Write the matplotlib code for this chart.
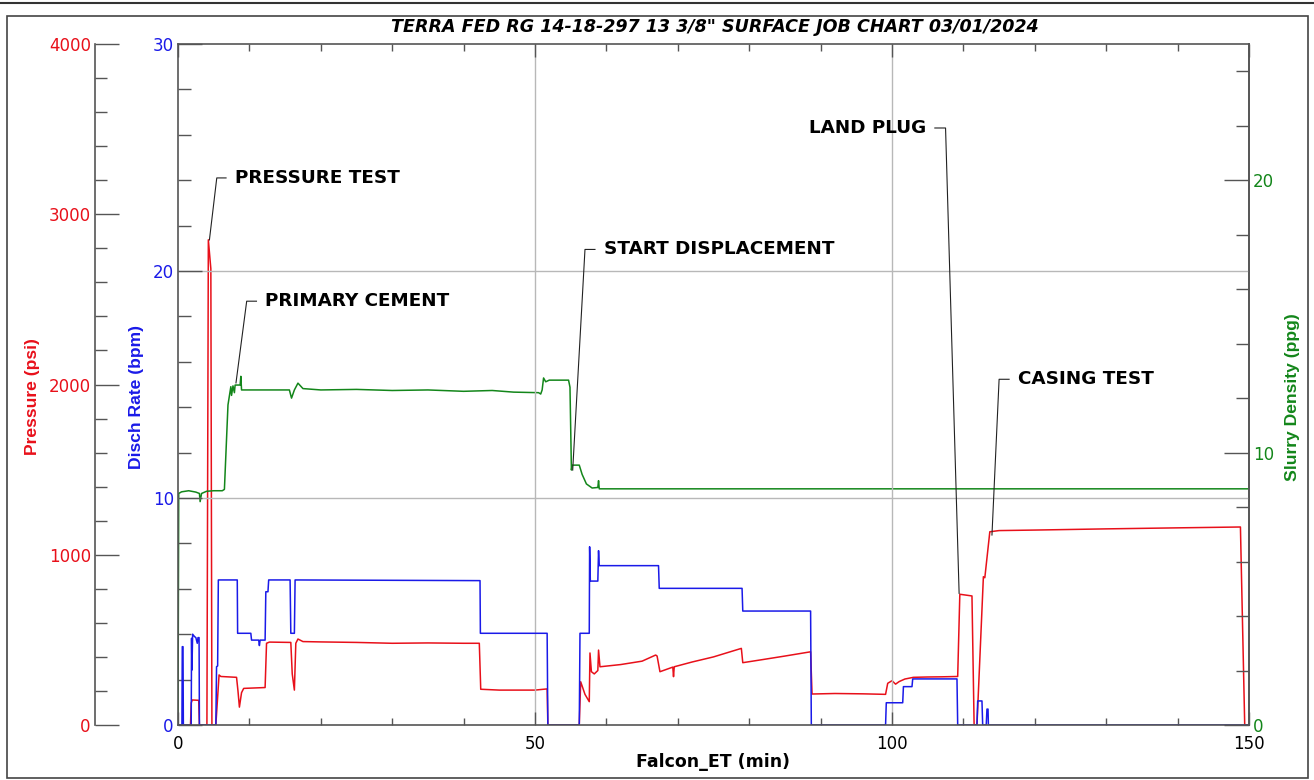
import matplotlib
matplotlib.use("Agg")
import matplotlib.pyplot as plt
from matplotlib.ticker import MultipleLocator
from matplotlib.patches import Rectangle
from matplotlib.lines import Line2D

# ------------ data ------------
press_t = [0, 1.75, 1.85, 2.0, 2.9, 3.0, 4.05, 4.25, 4.6, 4.75, 5.3, 5.75, 6.0, 8.2, 8.4,
           8.6, 8.9, 9.2, 12.2, 12.4, 12.8, 15.8, 16.0, 16.3, 16.5, 16.8, 17.5, 20, 25, 30,
           35, 40, 42.2, 42.4, 45, 50, 51.7, 51.8, 52.0, 56.2, 56.4, 57.0, 57.6, 57.7, 57.9,
           58.3, 58.8, 58.9, 59.1, 62, 65, 66.9, 67.1, 67.5, 69.3, 69.4, 69.5, 72, 75, 78.9,
           79.1, 82, 85, 88.6, 88.8, 92, 96, 99.1, 99.4, 100, 100.5, 101, 101.8, 103, 105,
           107, 109.2, 109.5, 111.2, 111.5, 111.9, 112.8, 113.0, 113.7, 115, 120, 130, 140,
           148.8, 149.4, 150]
press_psi = [0, 0, 130, 147, 145, 0, 0, 2850, 2680, 0, 0, 294, 285, 280, 200,
             105, 190, 215, 220, 480, 487, 485, 300, 205, 480, 505, 490, 488, 485, 480,
             482, 480, 480, 210, 205, 205, 212, 0, 0, 0, 254, 180, 137, 423, 313,
             300, 320, 440, 342, 355, 375, 411, 405, 313, 340, 284, 342, 370, 400, 450,
             366, 385, 405, 430, 182, 185, 183, 180, 245, 260, 240, 255, 270, 280, 282,
             283, 285, 768, 758, 0, 0, 871, 865, 1135, 1142, 1145, 1152, 1158,
             1163, 0, 0]

rate_t = [0, 0.55, 0.6, 0.7, 0.75, 1.85, 1.9, 1.95, 2.05, 2.3, 2.5, 2.7, 2.8, 2.95, 3.0,
          5.3, 5.4, 5.55, 5.65, 8.3, 8.35, 10.2, 10.3, 11.3, 11.4, 11.5, 12.2, 12.3, 12.6,
          12.7, 15.7, 15.8, 16.3, 16.4, 42.3, 42.35, 51.7, 51.8, 56.2, 56.3, 57.6, 57.65,
          57.75, 58.8, 58.9, 59.0, 67.3, 67.4, 79.0, 79.1, 88.6, 88.7, 99.1, 99.2, 101.5,
          101.6, 102.8, 102.9, 109.1, 109.2, 111.9, 112.0, 112.6, 112.7, 113.2, 113.3,
          113.45, 113.5, 150]
rate_bpm = [0, 0, 3.45, 3.45, 0, 0, 3.82, 2.42, 4.0, 3.9, 3.85, 3.6, 3.85, 3.85, 0,
            0, 2.57, 2.6, 6.39, 6.39, 4.04, 4.04, 3.74, 3.74, 3.5, 3.74, 3.74, 5.87, 5.87,
            6.39, 6.39, 4.04, 4.04, 6.39, 6.36, 4.04, 4.04, 0, 0, 4.04, 4.04, 7.85,
            6.34, 6.34, 7.68, 7.02, 7.02, 6.02, 6.02, 5.02, 5.02, 0, 0, 0.98, 0.98,
            1.69, 1.69, 2.03, 2.03, 0, 0, 1.06, 1.06, 0, 0, 0.70,
            0.70, 0, 0]

dens_t = [0, 0.1, 0.5, 1.5, 2.5, 3.0, 3.1, 3.3, 4, 5, 6.2, 6.5, 7.0, 7.4, 7.5, 7.7, 7.9,
          8.0, 8.7, 8.8, 8.9, 15.6, 15.9, 16.3, 16.8, 17.5, 20, 25, 30, 35, 40, 44, 47,
          50.5, 50.8, 51.0, 51.2, 51.5, 52, 54.7, 54.9, 55.1, 55.2, 56.2, 56.6, 57.2, 58.0,
          58.8, 58.9, 59.0, 150]
dens_ppg = [0, 8.5, 8.56, 8.6, 8.55, 8.5, 8.2, 8.5, 8.58, 8.6, 8.6, 8.65, 11.75, 12.42,
            12.1, 12.45, 12.2, 12.48, 12.48, 12.8, 12.3, 12.3, 12.0, 12.3, 12.55, 12.35,
            12.3, 12.32, 12.28, 12.3, 12.25, 12.28, 12.22, 12.2, 12.15, 12.3, 12.74, 12.6,
            12.66, 12.66, 12.4, 9.36, 9.54, 9.54, 9.2, 8.85, 8.7, 8.72, 8.97, 8.67, 8.67]

# annotation: label, curve point (min, bpm), elbow (min, bpm), end of short bar (min)
notes = [
    ("PRESSURE TEST", (4.4, 21.37), (5.43, 24.1), 6.73, "left"),
    ("PRIMARY CEMENT", (8.12, 15.07), (9.62, 18.67), 10.99, "left"),
    ("START DISPLACEMENT", (55.28, 11.23), (57.0, 20.95), 58.4, "left"),
    ("LAND PLUG", (109.4, 5.8), (107.5, 26.3), 106.0, "right"),
    ("CASING TEST", (114.0, 8.37), (115.0, 15.23), 116.4, "left"),
]

# ------------ style ------------
plt.rcParams['font.family'] = ['DejaVu Sans']
RED = '#e8101a'
BLUE = '#1a1ae8'
GREEN = '#13861a'
SPINE = '#555555'
GRID = '#b8b8b8'

W, H = 1314, 780
fig = plt.figure(figsize=(W / 100, H / 100), dpi=100)
x0, x1, y0, y1 = 178, 1249, 44, 725
ax = fig.add_axes([x0 / W, 1 - y1 / H, (x1 - x0) / W, (y1 - y0) / H])
ax_p = ax.twinx()
ax_d = ax.twinx()

# host axis: discharge rate
ax.set_xlim(0, 150)
ax.set_ylim(0, 30)
ax.xaxis.set_major_locator(MultipleLocator(50))
ax.xaxis.set_minor_locator(MultipleLocator(10))
ax.yaxis.set_major_locator(MultipleLocator(10))
ax.yaxis.set_minor_locator(MultipleLocator(2))
ax.tick_params(axis='x', which='major', direction='in', length=9.5, width=1, color=SPINE,
               labelsize=12, pad=7, top=True)
ax.tick_params(axis='x', which='minor', direction='in', length=5, width=1, color=SPINE, top=True)
ax.tick_params(axis='y', which='major', direction='in', length=17.5, width=1, color=SPINE,
               labelsize=12, labelcolor=BLUE, pad=3, right=False)
ax.tick_params(axis='y', which='minor', direction='in', length=9.5, width=1, color=SPINE, right=False)
for sp in ax.spines.values():
    sp.set_color(SPINE)
    sp.set_linewidth(1.2)
for v in (50, 100):
    ax.axvline(v, color=GRID, lw=1.0, zorder=0)
for h in (10, 20):
    ax.axhline(h, color=GRID, lw=1.0, zorder=0)

# pressure axis (offset to the left)
ax_p.set_ylim(0, 4000)
ax_p.spines['left'].set_position(('axes', (95 - x0) / (x1 - x0)))
ax_p.spines['left'].set_visible(True)
ax_p.spines['left'].set_color(SPINE)
ax_p.spines['left'].set_linewidth(1.2)
for s in ('right', 'top', 'bottom'):
    ax_p.spines[s].set_visible(False)
ax_p.yaxis.set_ticks_position('left')
ax_p.yaxis.set_major_locator(MultipleLocator(1000))
ax_p.yaxis.set_minor_locator(MultipleLocator(200))
ax_p.tick_params(axis='y', which='major', direction='in', length=17.5, width=1, color=SPINE,
                 labelsize=12, labelcolor=RED, pad=3)
ax_p.tick_params(axis='y', which='minor', direction='in', length=8.6, width=1, color=SPINE)

# density axis (right)
ax_d.set_ylim(0, 25)
for s in ('left', 'top', 'bottom'):
    ax_d.spines[s].set_visible(False)
ax_d.spines['right'].set_color(SPINE)
ax_d.spines['right'].set_linewidth(1.2)
ax_d.yaxis.set_major_locator(MultipleLocator(10))
ax_d.yaxis.set_minor_locator(MultipleLocator(2))
ax_d.tick_params(axis='y', which='major', direction='in', length=18, width=1, color=SPINE,
                 labelsize=12, labelcolor=GREEN, pad=3)
ax_d.tick_params(axis='y', which='minor', direction='in', length=9.5, width=1, color=SPINE)

# curves
ax_d.plot(dens_t, dens_ppg, color=GREEN, lw=1.1)
ax_p.plot(press_t, press_psi, color=RED, lw=1.1)
ax.plot(rate_t, rate_bpm, color=BLUE, lw=1.1)
ax.set_zorder(ax_d.get_zorder() + 2)
ax.patch.set_visible(False)

# annotations with leader lines
for label, pt, elbow, bar_end, side in notes:
    ax.plot([pt[0], elbow[0], bar_end], [pt[1], elbow[1], elbow[1]],
            color='#222222', lw=0.8, clip_on=False)
    gap = 1.2 if side == "left" else -1.2
    ax.text(bar_end + gap, elbow[1], label, ha=side, va='center',
            fontsize=13.2, fontweight='bold', color='black')

# axis titles
lab_font = ['Liberation Sans', 'DejaVu Sans']
fig.text(32 / W, 1 - 397 / H, 'Pressure (psi)', rotation=90, ha='center', va='center',
         color=RED, fontsize=12.6, fontweight='bold', family=lab_font)
fig.text(137 / W, 1 - 397 / H, 'Disch Rate (bpm)', rotation=90, ha='center', va='center',
         color=BLUE, fontsize=12.6, fontweight='bold', family=lab_font)
fig.text(1293 / W, 1 - 397 / H, 'Slurry Density (ppg)', rotation=90, ha='center', va='center',
         color=GREEN, fontsize=12.6, fontweight='bold', family=lab_font)
fig.text(713 / W, 1 - 762 / H, 'Falcon_ET (min)', ha='center', va='center',
         fontsize=12.5, fontweight='bold')
fig.text(715 / W, 1 - 27 / H, 'TERRA FED RG 14-18-297 13 3/8" SURFACE JOB CHART 03/01/2024',
         ha='center', va='center', fontsize=12.6, fontweight='bold', style='italic')

# page frame
fig.patches.append(Rectangle((6.5 / W, 2 / H), (1308 - 6.5) / W, (764 - 2) / H,
                             transform=fig.transFigure, fill=False, ec='#444444', lw=1.2))
fig.lines.append(Line2D([0, 1], [1 - 3 / H, 1 - 3 / H], transform=fig.transFigure,
                        color='#333333', lw=1.5))

fig.savefig('out.png', dpi=100)
